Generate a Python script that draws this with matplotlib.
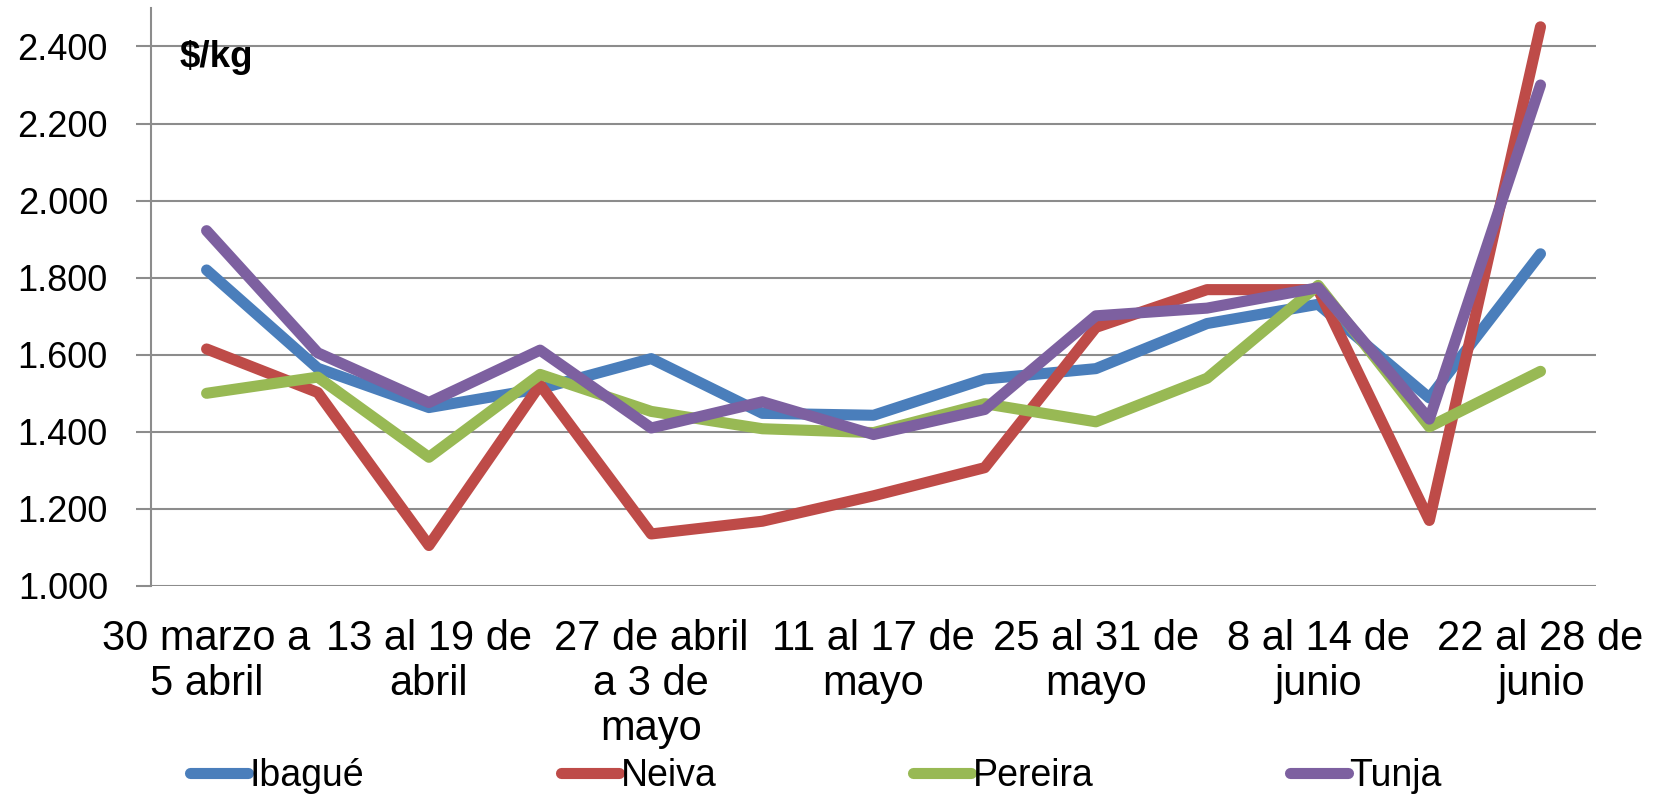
import numpy as np
import matplotlib.pyplot as plt

plt.rcParams['font.family'] = ['Liberation Sans', 'DejaVu Sans']

semanas = ['30 marzo a\n5 abril', '6 al 12 de\nabril', '13 al 19 de\nabril',
           '20 al 26 de\nabril', '27 de abril\na 3 de\nmayo', '4 al 10 de\nmayo',
           '11 al 17 de\nmayo', '18 al 24 de\nmayo', '25 al 31 de\nmayo',
           '1 al 7 de\njunio', '8 al 14 de\njunio', '15 al 21 de\njunio',
           '22 al 28 de\njunio']

ibague = [1820, 1565, 1463, 1512, 1590, 1448, 1443, 1537, 1564, 1681, 1731, 1488, 1862]
neiva = [1615, 1502, 1105, 1522, 1135, 1168, 1234, 1307, 1671, 1769, 1769, 1170, 2451]
pereira = [1500, 1542, 1334, 1549, 1453, 1408, 1398, 1473, 1426, 1539, 1780, 1413, 1557]
tunja = [1922, 1605, 1476, 1612, 1410, 1478, 1393, 1458, 1701, 1721, 1774, 1433, 2300]

series = [('Ibagué', ibague, '#4A7EBB'), ('Neiva', neiva, '#BE4B48'),
          ('Pereira', pereira, '#98B954'), ('Tunja', tunja, '#7D60A0')]

fig = plt.figure(figsize=(16.65, 7.94), dpi=100)
ax = fig.add_axes([0.0907, 0.262, 0.8679, 0.728])

x = np.arange(len(semanas))
for nombre, vals, color in series:
    ax.plot(x, vals, color=color, lw=8, solid_capstyle='round',
            solid_joinstyle='round', label=nombre)

grid_c = '#8c8c8c'
ax.set_ylim(1000, 2500)
ax.set_xlim(-0.5, len(semanas) - 0.5)
ax.set_yticks(np.arange(1000, 2401, 200))
ax.set_yticklabels([f'{v:,}'.replace(',', '.') for v in range(1000, 2401, 200)])
ax.yaxis.grid(True, color=grid_c, lw=1.5)
ax.set_axisbelow(True)

ax.set_xticks(x[::2])
ax.set_xticklabels(semanas[::2], linespacing=1.15)
ax.tick_params(axis='x', length=0, pad=24, labelsize=30)
ax.tick_params(axis='y', length=11, width=1.5, color=grid_c, pad=20, labelsize=26)

for s in ['top', 'right', 'bottom']:
    ax.spines[s].set_visible(False)
ax.spines['left'].set_color(grid_c)
ax.spines['left'].set_linewidth(1.5)

ax.text(0.02, 0.915, r'\$/kg', transform=ax.transAxes, fontsize=26.5,
        fontweight='bold', va='center', ha='left')

fig.legend(loc='lower left', bbox_to_anchor=(0.114, 0.0, 0.752, 0.06),
           ncol=4, mode='expand', frameon=False, fontsize=27,
           handlelength=1.55, handletextpad=0.05, borderpad=0,
           borderaxespad=0)

fig.savefig('out.png', dpi=100)
